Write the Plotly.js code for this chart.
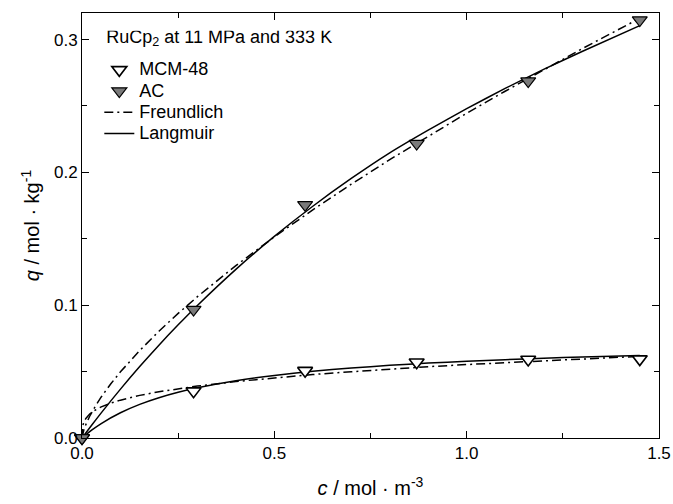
<!DOCTYPE html>
<html>
<head>
<meta charset="utf-8">
<script src="https://cdn.plot.ly/plotly-3.0.1.min.js"></script>
<style>html,body{margin:0;padding:0;background:#fff;}#chart{width:673px;height:504px;}</style>
</head>
<body>
<div id="chart"></div>
<script>
// Measured isotherm points (c in mol/m3, q in mol/kg)
const cData = [0, 0.29, 0.58, 0.87, 1.16, 1.45];
const qMCM = [0, 0.0353, 0.0507, 0.0570, 0.0591, 0.0594];
const qAC = [0, 0.0967, 0.1756, 0.2217, 0.2687, 0.3147];

// Freundlich curves
const cFreund = [0, 0.002, 0.005, 0.01, 0.02, 0.035, 0.05, 0.075, 0.1, 0.15, 0.2, 0.25, 0.3, 0.4, 0.5, 0.6, 0.7, 0.8, 0.9, 1.0, 1.1, 1.2, 1.3, 1.45];
const qFreundMCM = [0, 0.0093, 0.0121, 0.0147, 0.0180, 0.0211, 0.0234, 0.0263, 0.0285, 0.0321, 0.0348, 0.0371, 0.0391, 0.0425, 0.0453, 0.0478, 0.0499, 0.0519, 0.0537, 0.0553, 0.0568, 0.0583, 0.0596, 0.0615];
const qFreundAC = [0, 0.0033, 0.0063, 0.0101, 0.0164, 0.0241, 0.0309, 0.0408, 0.0498, 0.0659, 0.0804, 0.0938, 0.1064, 0.1298, 0.1514, 0.1718, 0.1911, 0.2096, 0.2273, 0.2445, 0.2611, 0.2773, 0.2931, 0.3160];

// Langmuir curves
const cLang = [0, 0.025, 0.05, 0.1, 0.15, 0.2, 0.25, 0.3, 0.4, 0.5, 0.6, 0.7, 0.8, 0.9, 1.0, 1.1, 1.2, 1.3, 1.45];
const qLangMCM = [0, 0.0059, 0.0109, 0.0190, 0.0253, 0.0303, 0.0344, 0.0378, 0.0431, 0.0471, 0.0502, 0.0527, 0.0547, 0.0564, 0.0578, 0.0590, 0.0601, 0.0610, 0.0622];
const qLangAC = [0, 0.0096, 0.0189, 0.0368, 0.0538, 0.0699, 0.0852, 0.0998, 0.1270, 0.1518, 0.1745, 0.1954, 0.2147, 0.2318, 0.2480, 0.2632, 0.2775, 0.2910, 0.3105];

const legendTitle = 'RuCp<sub>2</sub> at 11 MPa and 333 K';
const names = ['MCM-48', 'AC', 'Freundlich', 'Langmuir'];

const FONT = 'Liberation Sans, Arial, sans-serif';
const big = s => '<span style="font-size:18px">' + s + '</span>';
const dashDot = '9px,4px,2px,4px';

const traces = [
  {x: cFreund, y: qFreundMCM, mode: 'lines', line: {color: '#000', width: 1.5, dash: dashDot}, showlegend: false, hoverinfo: 'skip', cliponaxis: false},
  {x: cFreund, y: qFreundAC, mode: 'lines', name: big(names[2]), legendrank: 3, line: {color: '#000', width: 1.5, dash: dashDot}, cliponaxis: false},
  {x: cLang, y: qLangMCM, mode: 'lines', line: {color: '#000', width: 1.5, shape: 'spline', smoothing: 0.6}, showlegend: false, hoverinfo: 'skip', cliponaxis: false},
  {x: cLang, y: qLangAC, mode: 'lines', name: big(names[3]), legendrank: 4, line: {color: '#000', width: 1.5, shape: 'spline', smoothing: 0.6}, cliponaxis: false},
  {x: cData, y: qMCM, mode: 'markers', name: big(names[0]), legendrank: 1, marker: {symbol: 'triangle-down', size: 13, color: '#fff', line: {color: '#000', width: 1.6}}, cliponaxis: false},
  {x: cData, y: qAC, mode: 'markers', name: big(names[1]), legendrank: 2, marker: {symbol: 'triangle-down', size: 13, color: '#7a7a7a', line: {color: '#000', width: 1.2}}, cliponaxis: false}
];

const axisCommon = {
  showline: true, linecolor: '#000', linewidth: 1, mirror: 'allticks',
  ticks: 'inside', ticklen: 7, tickwidth: 1, tickcolor: '#000',
  showgrid: false, zeroline: false,
  tickfont: {family: FONT, size: 17, color: '#000'},
  tickformat: '.1f'
};

const layout = {
  width: 673, height: 504,
  margin: {l: 82, r: 14, t: 13, b: 66, pad: 0},
  paper_bgcolor: '#fff', plot_bgcolor: '#fff',
  font: {family: FONT, color: '#000'},
  showlegend: true,
  xaxis: Object.assign({}, axisCommon, {
    range: [0, 1.5], tick0: 0, dtick: 0.5,
    minor: {dtick: 0.25, ticks: 'inside', ticklen: 5, tickcolor: '#000'},
    title: {text: '<i>c</i> / mol · m<sup>-3</sup>', font: {family: FONT, size: 20, color: '#000'}, standoff: 18}
  }),
  yaxis: Object.assign({}, axisCommon, {
    range: [0, 0.32], tick0: 0, dtick: 0.1,
    minor: {dtick: 0.05, ticks: 'inside', ticklen: 5, tickcolor: '#000'},
    title: {text: '<i>q</i> / mol · kg<sup>-1</sup>', font: {family: FONT, size: 20, color: '#000'}, standoff: 8}
  }),
  legend: {
    x: 0.03, y: 0.958, xanchor: 'left', yanchor: 'top',
    bgcolor: 'rgba(0,0,0,0)', borderwidth: 0,
    font: {family: FONT, size: 14, color: '#000'},
    title: {text: '<span style="font-size:18px">\u00A0' + legendTitle + '</span><br>\u00A0', font: {family: FONT, size: 9, color: '#000'}},
    tracegroupgap: 0, itemwidth: 30
  }
};

Plotly.newPlot('chart', traces, layout, {displayModeBar: false, staticPlot: true});
</script>
</body>
</html>
